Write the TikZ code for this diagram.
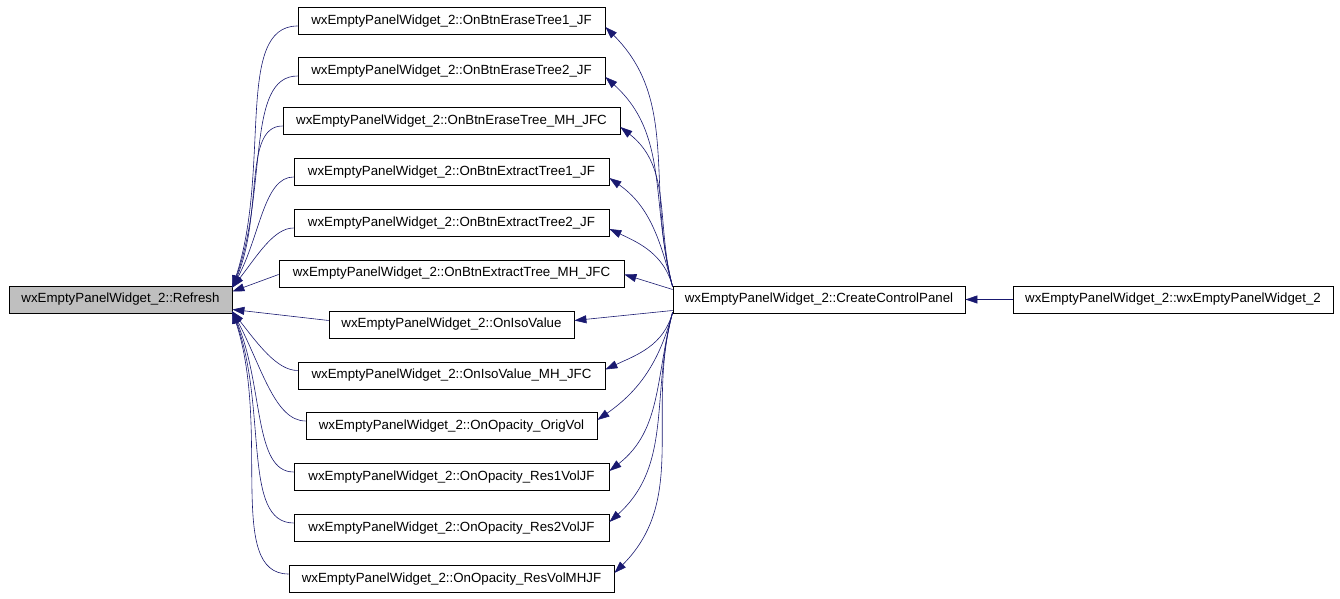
\documentclass[tikz,border=0pt]{standalone}
\usepackage{fontspec}
\setmainfont{Liberation Sans}
\usepackage{tikz}
\usetikzlibrary{arrows.meta}
\definecolor{edgeblue}{RGB}{25,25,112}
\definecolor{current}{RGB}{191,191,191}

\begin{document}
\begin{tikzpicture}[x=1pt,y=1pt,
    fnbox/.style={draw=black, line width=0.8pt, fill=white, inner sep=0pt,
        minimum height=27pt, font=\fontsize{13.3}{16}\selectfont},
    calledge/.style={draw=edgeblue, line width=0.6pt,
        -{Triangle[length=12pt,width=8pt]}}]
    %% Background
    \useasboundingbox (0,0) rectangle (1340,599);
    %% Functions
    \node[fnbox, fill=current, minimum width=223pt] (refresh) at (120.5,299.5)
        {wxEmptyPanelWidget\_2::Refresh};
    \node[fnbox, minimum width=292pt] (ccp) at (819,299.5)
        {wxEmptyPanelWidget\_2::CreateControlPanel};
    \node[fnbox, minimum width=320pt] (ctor) at (1173,299.5)
        {wxEmptyPanelWidget\_2::wxEmptyPanelWidget\_2};
    \foreach \i/\w/\y/\name in {
        1/307/578/OnBtnEraseTree1\_JF,
        2/307/528/OnBtnEraseTree2\_JF,
        3/337/478/OnBtnEraseTree\_MH\_JFC,
        4/315/427/OnBtnExtractTree1\_JF,
        5/315/376/OnBtnExtractTree2\_JF,
        6/345/325.5/OnBtnExtractTree\_MH\_JFC,
        7/245/274.5/OnIsoValue,
        8/307/223.5/OnIsoValue\_MH\_JFC,
        9/291/173/OnOpacity\_OrigVol,
        10/315/122/OnOpacity\_Res1VolJF,
        11/315/71/OnOpacity\_Res2VolJF,
        12/325/20/OnOpacity\_ResVolMHJF}
    {
        \node[fnbox, minimum width=\w pt] (b\i) at (451.5,\y)
            {wxEmptyPanelWidget\_2::\name};
    }
    %% Calls into Refresh
    \foreach \i/\a in {1/72,2/70,3/67,4/62,5/52}
    {
        \draw[calledge] ([yshift=-5pt]b\i.west) to[out=180,in=\a,
            out looseness=0.6,in looseness=1.2]
            ([yshift=-2pt]refresh.north east);
    }
    \foreach \i/\a in {8/-52,9/-62,10/-67,11/-70,12/-72}
    {
        \draw[calledge] ([yshift=5pt]b\i.west) to[out=180,in=\a,
            out looseness=0.6,in looseness=1.2]
            ([yshift=2pt]refresh.south east);
    }
    \draw[calledge] ([yshift=-1pt]b6.west) -- ([yshift=8pt]refresh.east);
    \draw[calledge] ([yshift=4pt]b7.west) -- ([yshift=-10pt]refresh.east);
    %% Calls from CreateControlPanel
    \foreach \i/\a in {1/-45,2/-42,3/-38,4/-35,5/-25}
    {
        \draw[calledge] ([yshift=-1pt]ccp.north west) to[out=105,in=\a]
            ([yshift=-6pt]b\i.east);
    }
    \foreach \i/\a in {8/25,9/35,10/38,11/42,12/45}
    {
        \draw[calledge] ([yshift=1pt]ccp.south west) to[out=-105,in=\a]
            ([yshift=6pt]b\i.east);
    }
    \draw[calledge] ([yshift=10pt]ccp.west) -- ([yshift=-1pt]b6.east);
    \draw[calledge] ([yshift=-11pt]ccp.west) -- ([yshift=4pt]b7.east);
    \draw[calledge] (ctor) -- (ccp);
\end{tikzpicture}
\end{document}
